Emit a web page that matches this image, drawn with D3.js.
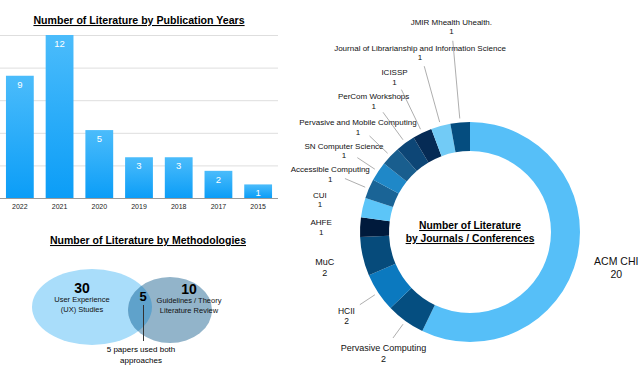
<!DOCTYPE html>
<html>
<head>
<meta charset="utf-8">
<script src="https://cdn.jsdelivr.net/npm/d3@7"></script>
<style>
body{margin:0;background:#fff;}
svg{font-family:"Liberation Sans",Arial,Helvetica,sans-serif;}
.ttl{font-weight:bold;text-decoration:underline;}
</style>
</head>
<body>
<svg id="chart" width="640" height="365"></svg>
<script>
// bar chart data
var years = ["2022","2021","2020","2019","2018","2017","2015"];
var yearCounts = [9,12,5,3,3,2,1];
var gridTicks = [0,2.4,4.8,7.2,9.6,12];

// venn data
var methodNames = [["User Experience","(UX) Studies"],["Guidelines / Theory","Literature Review"]];
var methodCounts = [30,10];
var overlapCount = 5;
var overlapNote = ["5 papers used both","approaches"];

// donut data
var venues = ["ACM CHI","Pervasive Computing","HCII","MuC","AHFE","CUI","Accessible Computing","SN Computer Science","Pervasive and Mobile Computing","PerCom Workshops","ICISSP","Journal of Librarianship and Information Science","JMIR Mhealth Uhealth."];
var venueCounts = [20,2,2,2,1,1,1,1,1,1,1,1,1];

// styles / layout (not data)
var venueColors = ["#56bff8","#054e80","#0b79bf","#064b7b","#001a3c","#5cc5f8","#1a6496","#1f88c8","#195e8e","#0d4676","#062b55","#72cbf6","#054d7f"];
var labelR = [150,147,148,149,149,154,152,151,155,164,174,188,208];
var labelSize = [10.5,9,8.5,9,8,8,8,8,8,8,8,8,8];
var noLine = {"ACM CHI":1,"MuC":1,"AHFE":1,"CUI":1};

var svg = d3.select("#chart");

// ---------- bars ----------
var defs = svg.append("defs");
var grad = defs.append("linearGradient").attr("id","barGrad").attr("x1",0).attr("y1",0).attr("x2",0).attr("y2",1);
grad.append("stop").attr("offset","0%").attr("stop-color","#4bbcfb");
grad.append("stop").attr("offset","100%").attr("stop-color","#0b9df7");

var x = d3.scaleBand().domain(years).range([0,278]).paddingInner(0.3).paddingOuter(0.15);
var y = d3.scaleLinear().domain([0,12]).range([198,35]);

svg.append("text").attr("class","ttl").attr("x",139).attr("y",24).attr("text-anchor","middle")
    .style("font-size","10.6px").text("Number of Literature by Publication Years");

svg.append("g").selectAll("line").data(gridTicks).join("line")
    .attr("x1",0).attr("x2",278).attr("y1",function(d){return y(d)+0.5}).attr("y2",function(d){return y(d)+0.5})
    .style("stroke",function(d){return d==0?"#9a9a9a":"#dedede"}).style("stroke-width",1);

var bars = svg.append("g");
bars.selectAll("rect").data(yearCounts).join("rect")
    .attr("x",function(d,i){return x(years[i])}).attr("width",x.bandwidth())
    .attr("y",function(d){return y(d)}).attr("height",function(d){return y(0)-y(d)})
    .style("fill","url(#barGrad)");
bars.selectAll("text.v").data(yearCounts).join("text").attr("class","v")
    .attr("x",function(d,i){return x(years[i])+x.bandwidth()/2}).attr("y",function(d){return y(d)+12})
    .attr("text-anchor","middle").style("fill","#fff").style("font-size","9.5px").text(function(d){return d});

svg.append("g").attr("transform","translate(0,198)")
    .call(d3.axisBottom(x).tickSize(0).tickPadding(6))
    .call(function(g){g.select(".domain").remove()})
    .selectAll("text").style("font-size","7px").style("font-family","inherit").style("fill","#222");

// ---------- venn ----------
svg.append("text").attr("class","ttl").attr("x",148).attr("y",244).attr("text-anchor","middle")
    .style("font-size","10.5px").text("Number of Literature by Methodologies");

var venn = svg.append("g");
var ell = [{cx:92,cy:307,rx:60,ry:38,c:"#a9ddfa"},{cx:170,cy:310,rx:42,ry:33,c:"#92b4ca"}];
venn.selectAll("ellipse").data(ell).join("ellipse")
    .attr("cx",function(d){return d.cx}).attr("cy",function(d){return d.cy})
    .attr("rx",function(d){return d.rx}).attr("ry",function(d){return d.ry}).style("fill",function(d){return d.c});
defs.append("clipPath").attr("id","clipL").append("ellipse")
    .attr("cx",ell[0].cx).attr("cy",ell[0].cy).attr("rx",ell[0].rx).attr("ry",ell[0].ry);
venn.append("ellipse").attr("clip-path","url(#clipL)")
    .attr("cx",ell[1].cx).attr("cy",ell[1].cy).attr("rx",ell[1].rx).attr("ry",ell[1].ry).style("fill","#5fa2cb");

var cpos = [[82,293],[189,294]];
methodCounts.forEach(function(v,i){
    venn.append("text").attr("x",cpos[i][0]).attr("y",cpos[i][1]).attr("text-anchor","middle")
        .style("font-size","14px").style("font-weight","bold").text(v);
    methodNames[i].forEach(function(t,j){
        venn.append("text").attr("x",cpos[i][0]).attr("y",cpos[i][1]+9+j*9.5).attr("text-anchor","middle")
            .style("font-size","7.5px").style("fill","#111").text(t);
    });
});
venn.append("text").attr("x",143).attr("y",301).attr("text-anchor","middle")
    .style("font-size","13px").style("font-weight","bold").text(overlapCount);
venn.append("line").attr("x1",143.5).attr("x2",143.5).attr("y1",305).attr("y2",341).style("stroke","#333").style("stroke-width",1);
overlapNote.forEach(function(t,j){
    venn.append("text").attr("x",141).attr("y",352+j*11).attr("text-anchor","middle").style("font-size","8px").text(t);
});

// ---------- donut ----------
var cx = 470, cy = 232;
var pie = d3.pie().sort(null).value(function(d){return d})(venueCounts);
var arc = d3.arc().innerRadius(81).outerRadius(110);
var donut = svg.append("g").attr("transform","translate("+cx+","+cy+")");
donut.selectAll("path").data(pie).join("path").attr("d",arc)
    .style("fill",function(d,i){return venueColors[i]});

function pt(a,r){return [r*Math.sin(a),-r*Math.cos(a)]}

pie.forEach(function(d,i){
    var a = (d.startAngle+d.endAngle)/2;
    if(!noLine[venues[i]]){
        var p1 = pt(a,114), p2 = pt(a,labelR[i]-16);
        donut.append("line").attr("x1",p1[0]).attr("y1",p1[1]).attr("x2",p2[0]).attr("y2",p2[1])
            .style("stroke","#777").style("stroke-width",0.6);
    }
    var p = pt(a,labelR[i]);
    var fs = labelSize[i];
    donut.append("text").attr("x",p[0]).attr("y",p[1]).attr("text-anchor","middle")
        .style("font-size",fs+"px").style("fill","#111").text(venues[i]);
    donut.append("text").attr("x",p[0]).attr("y",p[1]+fs*1.2).attr("text-anchor","middle")
        .style("font-size",fs+"px").style("fill","#111").text(venueCounts[i]);
});

donut.append("text").attr("class","ttl").attr("x",0).attr("y",-3).attr("text-anchor","middle")
    .style("font-size","10.3px").text("Number of Literature");
donut.append("text").attr("class","ttl").attr("x",0).attr("y",10).attr("text-anchor","middle")
    .style("font-size","10.3px").text("by Journals / Conferences");
</script>
</body>
</html>
